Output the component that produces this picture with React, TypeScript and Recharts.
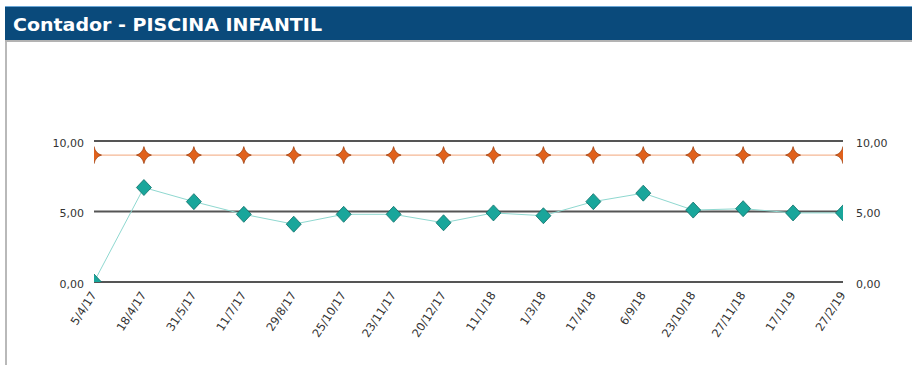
import React from 'react';
import { LineChart, Line, XAxis, YAxis, CartesianGrid } from 'recharts';

// Reading dates (x axis categories)
const fechas: string[] = [
  '5/4/17', '18/4/17', '31/5/17', '11/7/17', '29/8/17', '25/10/17', '23/11/17', '20/12/17',
  '11/1/18', '1/3/18', '17/4/18', '6/9/18', '23/10/18', '27/11/18', '17/1/19', '27/2/19',
];

// Measured counter values
const contador: number[] = [0, 6.7, 5.7, 4.8, 4.1, 4.8, 4.8, 4.2, 4.9, 4.7, 5.7, 6.3, 5.1, 5.2, 4.9, 4.9];

// Reference limit
const limite: number[] = [9, 9, 9, 9, 9, 9, 9, 9, 9, 9, 9, 9, 9, 9, 9, 9];

// Y axis ticks
const yTicks: number[] = [0, 5, 10];

const data = fechas.map((f, i) => ({ fecha: f, contador: contador[i], limite: limite[i] }));

const FONT = '"DejaVu Sans", Verdana, sans-serif';

const fmt = (v: number) => v.toFixed(2).replace('.', ',');

const Diamond = (props: any) => {
  const { cx, cy, index } = props;
  if (cx == null || cy == null) return <g key={`d-${index}`} />;
  const w = 7.5;
  const h = 8;
  return (
    <path
      key={`d-${index}`}
      d={`M${cx},${cy - h} L${cx + w},${cy} L${cx},${cy + h} L${cx - w},${cy} Z`}
      fill="#19a69b"
      stroke="#0d6f68"
      strokeWidth={0.8}
    />
  );
};

const Star = (props: any) => {
  const { cx, cy, index } = props;
  if (cx == null || cy == null) return <g key={`s-${index}`} />;
  const v = 8.5;
  const hz = 7.5;
  const c = 1.6;
  const d =
    `M${cx},${cy - v} Q${cx + c},${cy - c} ${cx + hz},${cy} ` +
    `Q${cx + c},${cy + c} ${cx},${cy + v} ` +
    `Q${cx - c},${cy + c} ${cx - hz},${cy} ` +
    `Q${cx - c},${cy - c} ${cx},${cy - v} Z`;
  return <path key={`s-${index}`} d={d} fill="#e0611c" stroke="#9a3e10" strokeWidth={0.7} />;
};

const XTick = (props: any) => {
  const { x, y, payload } = props;
  return (
    <g transform={`translate(${x},${y + 3})`}>
      <text
        x={0}
        y={0}
        dy="0.3em"
        textAnchor="end"
        transform="rotate(-57)"
        fontFamily={FONT}
        fontSize={11.5}
        fill="#333"
      >
        {payload.value}
      </text>
    </g>
  );
};

export default function App() {
  return (
    <div
      style={{
        position: 'fixed',
        left: 0,
        top: 0,
        width: 912,
        height: 365,
        background: '#fff',
        overflow: 'hidden',
      }}
    >
      {/* panel frame */}
      <div style={{ position: 'absolute', left: 5, top: 6, width: 2, height: 359, background: '#b9b9b9' }} />
      <div
        style={{
          position: 'absolute',
          left: 5,
          top: 6,
          width: 907,
          height: 36,
          background: '#0a4a7b',
          borderTop: '1px solid #6aa6d6',
          borderBottom: '2px solid #b3b3b3',
          boxSizing: 'border-box',
        }}
      >
        <svg width={907} height={33} style={{ position: 'absolute', left: 0, top: 0 }}>
          <text
            x={8}
            y={24}
            fontFamily={FONT}
            fontWeight="bold"
            fontSize={18}
            fill="#fff"
            textLength={309}
            lengthAdjust="spacingAndGlyphs"
          >
            Contador - PISCINA INFANTIL
          </text>
        </svg>
      </div>

      <div style={{ position: 'absolute', left: 0, top: 0 }}>
        <LineChart width={912} height={365} data={data} margin={{ top: 141, right: 0, bottom: 0, left: 0 }}>
          <CartesianGrid vertical={false} stroke="#555" strokeWidth={2} yAxisId="left" />
          <XAxis
            dataKey="fecha"
            height={83}
            axisLine={false}
            tickLine={false}
            interval={0}
            tick={<XTick />}
            padding={{ left: 0, right: 0 }}
            allowDataOverflow
          />
          <YAxis
            yAxisId="left"
            orientation="left"
            width={94}
            domain={[0, 10]}
            ticks={yTicks}
            allowDataOverflow
            axisLine={false}
            tickLine={false}
            tickMargin={4}
            tickFormatter={fmt}
            tick={{ fontFamily: FONT, fontSize: 11, fill: '#333', dy: 2 }}
          />
          <YAxis
            yAxisId="right"
            orientation="right"
            width={69}
            domain={[0, 10]}
            ticks={yTicks}
            allowDataOverflow
            axisLine={false}
            tickLine={false}
            tickMargin={7}
            tickFormatter={fmt}
            tick={{ fontFamily: FONT, fontSize: 11, fill: '#333', dy: 2 }}
          />
          <Line
            yAxisId="left"
            type="linear"
            dataKey="limite"
            stroke="#f2a57a"
            strokeWidth={1}
            dot={Star}
            activeDot={false}
            isAnimationActive={false}
          />
          <Line
            yAxisId="left"
            type="linear"
            dataKey="contador"
            stroke="#8fd8d0"
            strokeWidth={1}
            dot={Diamond}
            activeDot={false}
            isAnimationActive={false}
          />
        </LineChart>
      </div>
    </div>
  );
}
